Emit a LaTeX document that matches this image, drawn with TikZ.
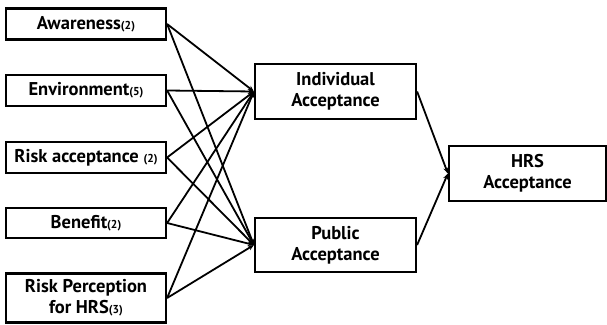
\documentclass[tikz,border=0pt]{standalone}
\usepackage{fontspec}
\setmainfont{PT Sans}[BoldFont={* Bold}]
\usetikzlibrary{arrows.meta}
\begin{document}
\begin{tikzpicture}[x=1pt,y=-1pt,
  box/.style={draw,line width=2.2pt,inner sep=0pt,font=\bfseries\fontsize{18.5}{21}\selectfont,align=center},
  conn/.style={line width=1.8pt,-{Stealth[length=6pt,width=5pt]}}]
\useasboundingbox (0,0) rectangle (607,324);
\newcommand{\sm}[1]{{\fontsize{11.5}{12}\selectfont #1}}
\node[box,minimum width=160pt,minimum height=31pt] (aw) at (86,24) {Awareness\sm{(2)}};
\node[box,minimum width=160pt,minimum height=31pt] (en) at (86,90.5) {Environment\sm{(5)}};
\node[box,minimum width=160pt,minimum height=31pt] (ra) at (86,157.5) {Risk acceptance \sm{(2)}};
\node[box,minimum width=160pt,minimum height=30pt] (be) at (86,223) {Benefit\sm{(2)}};
\node[box,minimum width=160pt,minimum height=49pt] (rp) at (86,298) {Risk Perception\\for HRS\sm{(3)}};
\node[box,minimum width=161pt,minimum height=55pt] (ia) at (335.5,91.5) {Individual\\Acceptance};
\node[box,minimum width=161pt,minimum height=54pt] (pa) at (335.5,245) {Public\\Acceptance};
\node[box,minimum width=157pt,minimum height=55pt] (hrs) at (527.5,173.5) {HRS\\Acceptance};
\foreach \s in {aw,en,ra,be,rp}{
  \draw[conn] (\s.east) -- (ia.west);
  \draw[conn] (\s.east) -- (pa.west);
}
\draw[conn] (ia.east) -- (hrs.west);
\draw[conn] (pa.east) -- (hrs.west);
\end{tikzpicture}
\end{document}
